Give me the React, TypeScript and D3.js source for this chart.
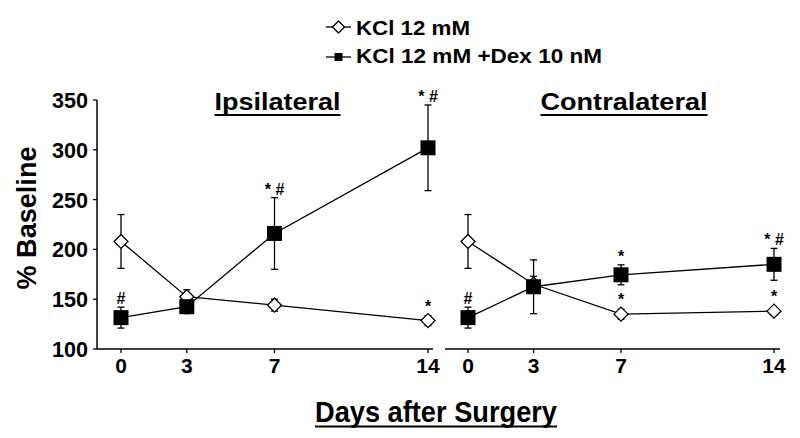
import React from "react";
import * as d3 from "d3";

const days = [0, 3, 7, 14];
const yTicks = [100, 150, 200, 250, 300, 350];

// Ipsilateral
const ipsiKcl = [208, 152.5, 144, 128.5];
const ipsiKclErr = [27, 7, 6, 5];
const ipsiDex = [131.5, 142.5, 216, 302];
const ipsiDexErr = [10.5, 7, 36, 43];
const ipsiKclMarks = ["", "", "", "*"];
const ipsiDexMarks = ["#", "", "* #", "* #"];

// Contralateral
const contraKcl = [208, 165, 135, 138];
const contraKclErr = [27, 8, 5, 3];
const contraDex = [131.5, 162.5, 174.5, 185];
const contraDexErr = [10.5, 27, 10, 16];
const contraKclMarks = ["", "", "*", "*"];
const contraDexMarks = ["#", "", "*", "* #"];

const FONT = "'Liberation Sans', Arial, Helvetica, sans-serif";

const y = d3.scaleLinear().domain([100, 350]).range([349, 100]);

type Panel = {
  title: string;
  titleLen: number;
  range: [number, number];
  axis: [number, number];
  kcl: number[];
  kclErr: number[];
  dex: number[];
  dexErr: number[];
  kclMarks: string[];
  dexMarks: string[];
};

const panels: Panel[] = [
  {
    title: "Ipsilateral",
    titleLen: 126,
    range: [121, 428],
    axis: [97, 433],
    kcl: ipsiKcl,
    kclErr: ipsiKclErr,
    dex: ipsiDex,
    dexErr: ipsiDexErr,
    kclMarks: ipsiKclMarks,
    dexMarks: ipsiDexMarks,
  },
  {
    title: "Contralateral",
    titleLen: 167,
    range: [468, 774],
    axis: [445, 780],
    kcl: contraKcl,
    kclErr: contraKclErr,
    dex: contraDex,
    dexErr: contraDexErr,
    kclMarks: contraKclMarks,
    dexMarks: contraDexMarks,
  },
];

function ErrBars({ x, vals, errs }: { x: d3.ScaleLinear<number, number>; vals: number[]; errs: number[] }) {
  return (
    <g stroke="#000" strokeWidth={1.3}>
      {days.map((d, i) => {
        const cx = x(d);
        const t = y(vals[i] + errs[i]);
        const b = y(vals[i] - errs[i]);
        return (
          <g key={i}>
            <line x1={cx} x2={cx} y1={t} y2={b} />
            <line x1={cx - 3.5} x2={cx + 3.5} y1={t} y2={t} />
            <line x1={cx - 3.5} x2={cx + 3.5} y1={b} y2={b} />
          </g>
        );
      })}
    </g>
  );
}

function PanelView({ p }: { p: Panel }) {
  const x = d3.scaleLinear().domain([0, 14]).range(p.range);
  const line = d3
    .line<number>()
    .x((_, i) => x(days[i]))
    .y((v) => y(v));
  const titleX = (p.range[0] + p.range[1]) / 2 + 3;
  return (
    <g>
      <text
        x={titleX}
        y={110}
        textAnchor="middle"
        fontFamily={FONT}
        fontWeight="bold"
        fontSize={24}
        textLength={p.titleLen}
        lengthAdjust="spacingAndGlyphs"
      >
        {p.title}
      </text>
      <line x1={titleX - p.titleLen / 2} x2={titleX + p.titleLen / 2} y1={115} y2={115} stroke="#000" strokeWidth={2} />
      {/* x axis */}
      <line x1={p.axis[0]} x2={p.axis[1]} y1={349} y2={349} stroke="#000" strokeWidth={1.5} />
      {days.map((d) => (
        <g key={d}>
          <line x1={x(d)} x2={x(d)} y1={349} y2={353} stroke="#000" strokeWidth={1.3} />
          <text x={x(d)} y={373} textAnchor="middle" fontFamily={FONT} fontWeight="bold" fontSize={21}>
            {d}
          </text>
        </g>
      ))}
      <path d={line(p.kcl) || ""} fill="none" stroke="#000" strokeWidth={1.3} />
      <path d={line(p.dex) || ""} fill="none" stroke="#000" strokeWidth={1.3} />
      <ErrBars x={x} vals={p.kcl} errs={p.kclErr} />
      <ErrBars x={x} vals={p.dex} errs={p.dexErr} />
      {p.kcl.map((v, i) => {
        const cx = x(days[i]);
        const cy = y(v);
        const r = 7;
        return (
          <path
            key={"k" + i}
            d={`M${cx},${cy - r}L${cx + r},${cy}L${cx},${cy + r}L${cx - r},${cy}Z`}
            fill="#fff"
            stroke="#000"
            strokeWidth={1.3}
          />
        );
      })}
      {p.dex.map((v, i) => {
        const cx = x(days[i]);
        const cy = y(v);
        return <rect key={"d" + i} x={cx - 7.5} y={cy - 7.5} width={15} height={15} fill="#000" />;
      })}
      {p.kclMarks.map((m, i) =>
        m ? (
          <text
            key={"km" + i}
            x={x(days[i])}
            y={Math.min(y(p.kcl[i] + p.kclErr[i]), y(p.kcl[i]) - 7) - 2}
            textAnchor="middle"
            fontFamily={FONT}
            fontWeight="bold"
            fontSize={16}
            style={{ whiteSpace: "pre" }}
          >
            {m}
          </text>
        ) : null
      )}
      {p.dexMarks.map((m, i) =>
        m ? (
          <text
            key={"dm" + i}
            x={x(days[i])}
            y={Math.min(y(p.dex[i] + p.dexErr[i]), y(p.dex[i]) - 7.5) - 3}
            textAnchor="middle"
            fontFamily={FONT}
            fontWeight="bold"
            fontSize={16}
            style={{ whiteSpace: "pre" }}
          >
            {m}
          </text>
        ) : null
      )}
    </g>
  );
}

export default function App() {
  return (
    <svg width={800} height={438} style={{ position: "absolute", left: 0, top: 0, background: "#fff" }}>
      <rect width={800} height={438} fill="#fff" />
      {/* legend */}
      <g>
        <line x1={326} x2={351} y1={27} y2={27} stroke="#000" strokeWidth={1.3} />
        <path d="M338.5,21L344.5,27L338.5,33L332.5,27Z" fill="#fff" stroke="#000" strokeWidth={1.3} />
        <text x={356} y={35} fontFamily={FONT} fontWeight="bold" fontSize={20} textLength={114} lengthAdjust="spacingAndGlyphs">
          KCl 12 mM
        </text>
        <line x1={326} x2={351} y1={57} y2={57} stroke="#000" strokeWidth={1.3} />
        <rect x={334.5} y={53} width={8} height={8} fill="#000" />
        <text x={356} y={63} fontFamily={FONT} fontWeight="bold" fontSize={20} textLength={246} lengthAdjust="spacingAndGlyphs">
          KCl 12 mM +Dex 10 nM
        </text>
      </g>
      {/* y axis */}
      <line x1={97} x2={97} y1={100} y2={349} stroke="#000" strokeWidth={1.5} />
      {yTicks.map((t) => (
        <g key={t}>
          <line x1={93} x2={97} y1={y(t)} y2={y(t)} stroke="#000" strokeWidth={1.3} />
          <text
            x={88}
            y={y(t) + 8}
            textAnchor="end"
            fontFamily={FONT}
            fontWeight="bold"
            fontSize={22}
            textLength={36}
            lengthAdjust="spacingAndGlyphs"
          >
            {t}
          </text>
        </g>
      ))}
      <text
        transform="translate(36,218) rotate(-90)"
        textAnchor="middle"
        fontFamily={FONT}
        fontWeight="bold"
        fontSize={28}
        textLength={143}
        lengthAdjust="spacingAndGlyphs"
      >
        % Baseline
      </text>
      {panels.map((p) => (
        <PanelView key={p.title} p={p} />
      ))}
      <text
        x={436}
        y={422}
        textAnchor="middle"
        fontFamily={FONT}
        fontWeight="bold"
        fontSize={30}
        textLength={242}
        lengthAdjust="spacingAndGlyphs"
      >
        Days after Surgery
      </text>
      <line x1={315} x2={557} y1={426.5} y2={426.5} stroke="#000" strokeWidth={2} />
    </svg>
  );
}
